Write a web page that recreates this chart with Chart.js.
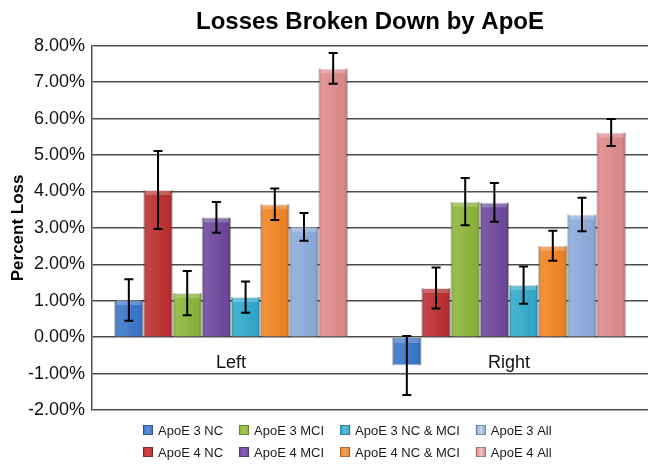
<!DOCTYPE html>
<html>
<head>
<meta charset="utf-8">
<title>Losses Broken Down by ApoE</title>
<script src="https://cdn.jsdelivr.net/npm/chart.js@4.4.1/dist/chart.umd.min.js"></script>
<style>
  html, body { margin: 0; padding: 0; background: #fff; }
  #wrap { width: 659px; height: 466px; }
</style>
</head>
<body>
<div id="wrap"><canvas id="grafico" width="659" height="466"></canvas></div>
<script>
// values, in percent
const CATEGORIES = ['Left', 'Right'];

const SERIES = ['ApoE 3 NC', 'ApoE 4 NC', 'ApoE 3 MCI', 'ApoE 4 MCI',
  'ApoE 3 NC & MCI', 'ApoE 4 NC & MCI', 'ApoE 3 All', 'ApoE 4 All'];

const APOE3_NC = [1.02, -0.78];
const APOE4_NC = [4.04, 1.35];
const APOE3_MCI = [1.21, 3.72];
const APOE4_MCI = [3.29, 3.70];
const APOE3_NC_MCI = [1.10, 1.43];
const APOE4_NC_MCI = [3.65, 2.51];
const APOE3_ALL = [3.03, 3.37];
const APOE4_ALL = [7.38, 5.62];

const ERR3_NC = [0.57, 0.81];
const ERR4_NC = [1.07, 0.56];
const ERR3_MCI = [0.61, 0.65];
const ERR4_MCI = [0.42, 0.53];
const ERR3_NC_MCI = [0.43, 0.51];
const ERR4_NC_MCI = [0.43, 0.41];
const ERR3_ALL = [0.38, 0.46];
const ERR4_ALL = [0.42, 0.37];

const Y_MIN = -2;
const Y_MAX = 8;
const Y_STEP = 1;

const CORES = ['#3a76c8', '#bb2f30', '#8cb43a', '#6e489d', '#33a9cb', '#f08424', '#8caadb', '#de8a8b'];

// legend rows as in the picture (dataset indexes)
const LEGEND_ROWS = [[0, 2, 4, 6], [1, 3, 5, 7]];

const valores = [APOE3_NC, APOE4_NC, APOE3_MCI, APOE4_MCI, APOE3_NC_MCI, APOE4_NC_MCI, APOE3_ALL, APOE4_ALL];
const erros = [ERR3_NC, ERR4_NC, ERR3_MCI, ERR4_MCI, ERR3_NC_MCI, ERR4_NC_MCI, ERR3_ALL, ERR4_ALL];

Chart.defaults.font.family = '"Liberation Sans", Arial, sans-serif';
Chart.defaults.color = '#111';

function barBox(bar) {
  const p = bar.getProps(['x', 'y', 'base', 'width'], true);
  return {
    left: p.x - p.width / 2,
    width: p.width,
    top: Math.min(p.y, p.base),
    height: Math.abs(p.base - p.y),
  };
}

// shading over each bar, like the office-style bevel
const brilho = {
  id: 'brilho',
  afterDatasetsDraw(chart) {
    const ctx = chart.ctx;
    ctx.save();
    chart.data.datasets.forEach((ds, i) => {
      chart.getDatasetMeta(i).data.forEach(bar => {
        const b = barBox(bar);
        const g = ctx.createLinearGradient(b.left, 0, b.left + b.width, 0);
        g.addColorStop(0, 'rgba(0,0,0,0.22)');
        g.addColorStop(0.12, 'rgba(255,255,255,0.10)');
        g.addColorStop(0.45, 'rgba(255,255,255,0.06)');
        g.addColorStop(0.88, 'rgba(0,0,0,0.02)');
        g.addColorStop(1, 'rgba(0,0,0,0.25)');
        ctx.fillStyle = g;
        ctx.fillRect(b.left, b.top, b.width, b.height);
        ctx.fillStyle = 'rgba(255,255,255,0.22)';
        ctx.fillRect(b.left + 2, b.top, b.width - 4, Math.min(5, b.height));
      });
    });
    ctx.restore();
  },
};

const barrasErro = {
  id: 'barrasErro',
  afterDatasetsDraw(chart) {
    const ctx = chart.ctx;
    const y = chart.scales.y;
    ctx.save();
    ctx.strokeStyle = '#000';
    ctx.lineWidth = 2;
    chart.data.datasets.forEach((ds, i) => {
      chart.getDatasetMeta(i).data.forEach((bar, j) => {
        const v = ds.data[j];
        const e = erros[i][j];
        const yTop = y.getPixelForValue(v + e);
        const yBot = y.getPixelForValue(v - e);
        const x = bar.x;
        ctx.beginPath();
        ctx.moveTo(x, yTop); ctx.lineTo(x, yBot);
        ctx.moveTo(x - 4.5, yTop); ctx.lineTo(x + 4.5, yTop);
        ctx.moveTo(x - 4.5, yBot); ctx.lineTo(x + 4.5, yBot);
        ctx.stroke();
      });
    });
    ctx.restore();
  },
};

// two-row legend below the plot
const legenda = {
  id: 'legenda',
  afterDraw(chart) {
    const ctx = chart.ctx;
    const area = chart.chartArea;
    ctx.save();
    ctx.font = '13px "Liberation Sans", Arial, sans-serif';
    ctx.textBaseline = 'middle';
    const box = 10, gapTxt = 5, gapCol = 16;
    const cols = LEGEND_ROWS[0].map((_, c) =>
      Math.max(...LEGEND_ROWS.map(r => box + gapTxt + ctx.measureText(SERIES[r[c]]).width)));
    let x0 = 143;
    const starts = cols.map(w => { const s = x0; x0 += w + gapCol; return s; });
    LEGEND_ROWS.forEach((row, r) => {
      const yc = area.bottom + 20 + r * 22;
      row.forEach((idx, c) => {
        const x = starts[c];
        const g = ctx.createLinearGradient(x, 0, x + box, 0);
        g.addColorStop(0, CORES[idx]);
        g.addColorStop(0.5, Chart.helpers.color(CORES[idx]).lighten(0.2).rgbString());
        g.addColorStop(1, CORES[idx]);
        ctx.fillStyle = g;
        ctx.fillRect(x, yc - box / 2, box, box);
        ctx.strokeStyle = 'rgba(0,0,0,0.3)';
        ctx.lineWidth = 1;
        ctx.strokeRect(x + 0.5, yc - box / 2 + 0.5, box - 1, box - 1);
        ctx.fillStyle = '#1a1a1a';
        ctx.fillText(SERIES[idx], x + box + gapTxt, yc + 1);
      });
    });
    ctx.restore();
  },
};

function renderGrafico() {
  const canvas = document.getElementById('grafico');

  const datasets = SERIES.map((nome, i) => ({
    label: nome,
    data: valores[i],
    backgroundColor: CORES[i],
    borderColor: 'rgba(0,0,0,0.15)',
    borderWidth: 1,
    categoryPercentage: 0.84,
    barPercentage: 1.0,
  }));

  new Chart(canvas.getContext('2d'), {
    type: 'bar',
    data: { labels: CATEGORIES, datasets },
    plugins: [brilho, barrasErro, legenda],
    options: {
      responsive: false,
      animation: false,
      layout: { padding: { left: 4, right: 11, top: 0, bottom: 56 } },
      plugins: {
        legend: { display: false },
        tooltip: { enabled: false },
        title: {
          display: true,
          text: 'Losses Broken Down by ApoE',
          color: '#000',
          fullSize: false,
          font: { size: 24, weight: 'bold' },
          padding: { top: 8, bottom: 9 },
        },
      },
      scales: {
        x: {
          position: { y: 0 },
          grid: { display: false },
          border: { display: false },
          ticks: { font: { size: 18 }, color: '#111', padding: 7 },
        },
        y: {
          min: Y_MIN,
          max: Y_MAX,
          afterFit: s => { s.width = 88; },
          grid: { color: '#4d4d4d', lineWidth: 1.5, drawTicks: false },
          border: { color: '#4d4d4d', width: 1.5 },
          ticks: {
            stepSize: Y_STEP,
            font: { size: 18 },
            color: '#111',
            padding: 7,
            callback: v => v.toFixed(2) + '%',
          },
          title: {
            display: true,
            text: 'Percent Loss',
            color: '#000',
            font: { size: 17, weight: 'bold' },
            padding: { top: 4, bottom: 0 },
          },
        },
      },
    },
  });
}

document.addEventListener('DOMContentLoaded', renderGrafico);
</script>
</body>
</html>
